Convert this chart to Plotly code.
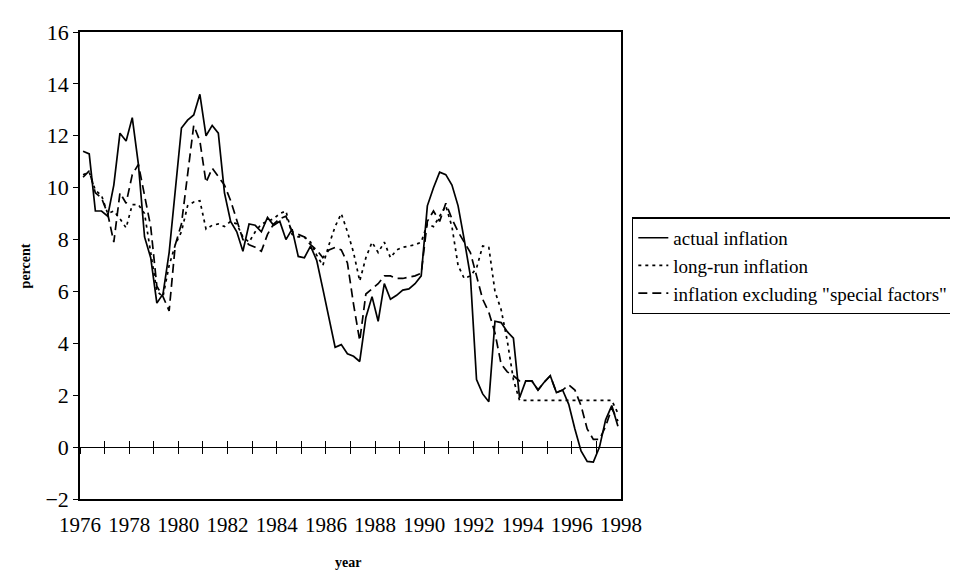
import plotly.graph_objects as go

# quarterly observations, 1976Q1 .. 1997Q4 (plotted at mid-quarter)
start_year = 1976
n_quarters = 88
quarters = [start_year + 0.125 + 0.25 * i for i in range(n_quarters)]

actual_inflation = [
    11.4, 11.3, 9.1, 9.1,      # 1976
    8.9, 10.1, 12.1, 11.8,     # 1977
    12.7, 10.9, 8.1, 7.3,      # 1978
    5.55, 5.9, 7.5, 9.9,       # 1979
    12.3, 12.6, 12.8, 13.6,    # 1980
    12.0, 12.4, 12.1, 9.8,     # 1981
    8.7, 8.3, 7.55, 8.6,       # 1982
    8.55, 8.3, 8.85, 8.55,     # 1983
    8.7, 8.0, 8.4, 7.35,       # 1984
    7.3, 7.75, 7.2, 6.1,       # 1985
    5.0, 3.85, 3.95, 3.6,      # 1986
    3.5, 3.3, 5.0, 5.8,        # 1987
    4.85, 6.3, 5.7, 5.85,      # 1988
    6.05, 6.1, 6.3, 6.6,       # 1989
    9.3, 10.0, 10.6, 10.5,     # 1990
    10.1, 9.3, 8.0, 6.6,       # 1991
    2.6, 2.05, 1.75, 4.85,     # 1992
    4.8, 4.45, 4.2, 1.9,       # 1993
    2.55, 2.55, 2.2, 2.5,      # 1994
    2.75, 2.1, 2.2, 1.65,      # 1995
    0.7, -0.15, -0.55, -0.58,  # 1996
    0.0, 1.05, 1.6, 0.8,       # 1997
]

long_run_inflation = [
    10.5, 10.6, 9.9, 9.7,
    9.0, 9.1, 8.8, 8.45,
    9.35, 9.35, 9.0, 7.5,
    6.0, 5.8, 7.0, 7.8,
    8.3, 9.3, 9.45, 9.5,
    8.4, 8.55, 8.6, 8.5,
    8.7, 8.6, 8.1, 7.9,
    8.3, 8.6, 8.7, 8.8,
    9.0, 9.1, 8.2, 8.1,
    8.1, 7.9, 7.4, 7.0,
    7.8, 8.5, 9.0, 8.3,
    7.5, 6.4, 7.3, 7.9,
    7.5, 7.9, 7.3, 7.6,
    7.7, 7.75, 7.8, 7.9,
    8.6, 8.5, 8.9, 9.3,
    8.5, 7.0, 6.5, 6.6,
    6.9, 7.75, 7.7, 6.0,
    5.3, 4.1, 2.6, 1.8,
    1.8, 1.8, 1.8, 1.8,
    1.8, 1.8, 1.8, 1.8,
    1.8, 1.8, 1.8, 1.8,
    1.8, 1.8, 1.8, 1.3,
]

excl_special_factors = [
    10.4, 10.65, 9.8, 9.6,
    9.0, 7.9, 9.8, 9.4,
    10.5, 10.9, 9.7, 8.5,
    6.2, 5.8, 5.25, 7.8,
    8.6, 10.4, 12.4, 11.8,
    10.2, 10.75, 10.4, 10.1,
    9.5, 8.7, 8.0, 7.8,
    7.7, 7.55, 8.2, 8.6,
    8.8, 8.9, 8.3, 8.2,
    8.1, 7.8, 7.6, 7.3,
    7.6, 7.7, 7.6, 7.1,
    5.5, 4.1, 5.9, 6.1,
    6.3, 6.6, 6.6, 6.5,
    6.5, 6.55, 6.6, 6.7,
    8.7, 9.1, 8.7, 9.4,
    8.8, 8.3, 7.9, 7.5,
    6.6, 5.7, 5.2, 4.4,
    3.2, 2.9, 2.75, 2.55,
    2.55, 2.55, 2.2, 2.5,
    2.75, 2.1, 2.2, 2.4,
    2.2, 1.6, 0.7, 0.3,
    0.3, 0.8, 1.5, 1.0,
]

series_names = ["actual inflation", "long-run inflation",
                'inflation excluding "special factors"']

year_ticks = list(range(1976, 1999, 2))
year_minor = list(range(1976, 1999))
y_ticks = list(range(-2, 17, 2))

FONT = "Liberation Serif"
x_range = [1976, 1998]
y_range = [-2, 16]

fig = go.Figure()
fig.add_trace(go.Scatter(x=quarters, y=actual_inflation, name=series_names[0],
                         mode="lines", line=dict(color="black", width=1.7)))
fig.add_trace(go.Scatter(x=quarters, y=long_run_inflation, name=series_names[1],
                         mode="lines", line=dict(color="black", width=1.7, dash="3px,4px")))
fig.add_trace(go.Scatter(x=quarters, y=excl_special_factors, name=series_names[2],
                         mode="lines", line=dict(color="black", width=1.7, dash="9px,5px")))
# empty traces to bind the zero-line axes
fig.add_trace(go.Scatter(x=[], y=[], xaxis="x2", showlegend=False, hoverinfo="skip"))
fig.add_trace(go.Scatter(x=[], y=[], xaxis="x3", showlegend=False, hoverinfo="skip"))

zero_pos = (0 - y_range[0]) / (y_range[1] - y_range[0])

fig.update_layout(
    width=958, height=571,
    margin=dict(l=72, r=336, t=24, b=80),
    paper_bgcolor="white", plot_bgcolor="white",
    font=dict(family=FONT, color="black", size=20),
    showlegend=True,
    legend=dict(x=1.02, y=0.603, xanchor="left", yanchor="top",
                bordercolor="black", borderwidth=1.5,
                font=dict(family=FONT, size=19, color="black"),
                bgcolor="white", tracegroupgap=0),
    xaxis=dict(range=x_range, tickvals=year_ticks, ticktext=[str(v) for v in year_ticks],
               showgrid=False, zeroline=False, showline=True, linecolor="black",
               linewidth=1.5, mirror=True, ticks="", ticklabelstandoff=6,
               tickfont=dict(family=FONT, size=21)),
    xaxis2=dict(range=x_range, overlaying="x", anchor="free", position=zero_pos,
                tickvals=year_minor, showticklabels=False, ticks="outside", ticklen=6,
                tickcolor="black", showline=True, linecolor="black", linewidth=1,
                showgrid=False, zeroline=False),
    xaxis3=dict(range=x_range, overlaying="x", anchor="free", position=zero_pos,
                tickvals=year_minor, showticklabels=False, ticks="inside", ticklen=6,
                tickcolor="black", showline=False, showgrid=False, zeroline=False),
    yaxis=dict(range=y_range, tickvals=y_ticks, showgrid=False, zeroline=False,
               showline=True, linecolor="black", linewidth=1.5, mirror=True,
               ticks="outside", ticklen=5, tickcolor="black",
               tickfont=dict(family=FONT, size=22)),
    annotations=[
        dict(text="<b>percent</b>", xref="paper", yref="paper", x=-0.1, y=0.5,
             xanchor="center", yanchor="middle",
             textangle=-90, showarrow=False, font=dict(family=FONT, size=14)),
        dict(text="<b>year</b>", xref="paper", yref="paper", x=0.496, y=-0.137,
             xanchor="center", yanchor="middle",
             showarrow=False, font=dict(family=FONT, size=14)),
    ],
)

fig.write_html("out.html")
